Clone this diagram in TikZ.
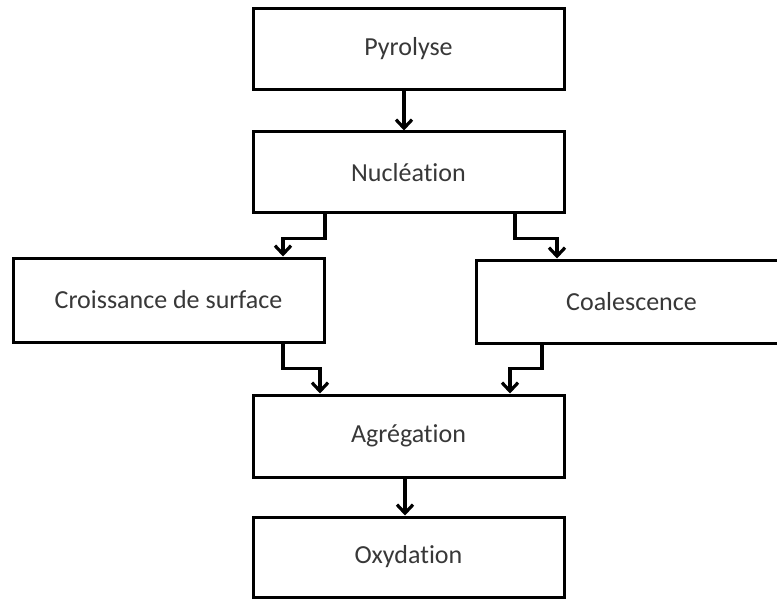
\documentclass[tikz,border=0pt]{standalone}
\usepackage{fontspec}
\setmainfont[Ligatures=NoCommon]{Carlito}
\usetikzlibrary{arrows.meta}
\begin{document}
\begin{tikzpicture}[x=1pt,y=-1pt,
  box/.style={draw=black,line width=3pt,fill=white,minimum width=311pt,inner sep=0pt,font=\fontsize{26}{30}\selectfont,text=black!78},
  arr/.style={line width=3.5pt,-{Straight Barb[length=8.5pt,width=16pt,line width=3.2pt]}}]
\useasboundingbox (0,0) rectangle (777,599);
\node[box,minimum height=81pt] (pyr) at (408.5,49) {Pyrolyse};
\node[box,minimum height=81pt] (nuc) at (408.5,172.5) {Nucléation};
\node[box,minimum height=84pt] (cro) at (168.5,300) {Croissance de surface};
\node[box,minimum height=83pt] (coa) at (631.5,301.5) {Coalescence};
\node[box,minimum height=82pt] (agr) at (408.5,436) {Agrégation};
\node[box,minimum height=80pt] (oxy) at (408.5,557) {Oxydation};
\draw[arr] (pyr.south -| 404,0) -- (nuc.north -| 404,0);
\draw[arr] (nuc.south -| 325,0) -- ++(0,24) -| (cro.north -| 283,0);
\draw[arr] (nuc.south -| 515,0) -- ++(0,24) -| (coa.north -| 557,0);
\draw[arr] (cro.south -| 283,0) -- ++(0,25) -| (agr.north -| 320,0);
\draw[arr] (coa.south -| 542,0) -- ++(0,24) -| (agr.north -| 510,0);
\draw[arr] (agr.south -| 405,0) -- (oxy.north -| 405,0);
\end{tikzpicture}
\end{document}
